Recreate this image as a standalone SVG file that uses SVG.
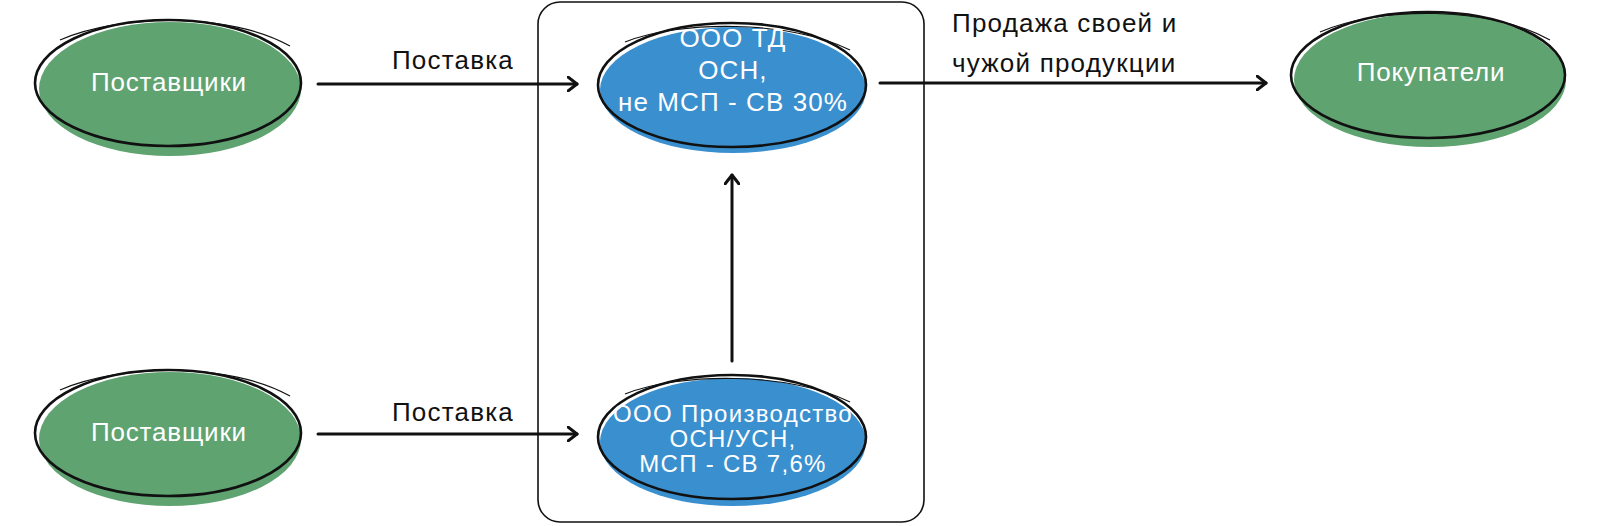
<svg xmlns="http://www.w3.org/2000/svg" width="1600" height="526" viewBox="0 0 1600 526">
<defs>
<style>
.g{fill:#5fa371}
.b{fill:#3a8fce}
.o{fill:none;stroke:#111;stroke-width:2.6}
.o2{fill:none;stroke:#111;stroke-width:1.2}
.t{font-family:"Liberation Sans",Arial,sans-serif;fill:#fff;text-anchor:middle}
.l{font-family:"Liberation Sans",Arial,sans-serif;fill:#111;font-size:26px;letter-spacing:1.2px}
.c{fill:none;stroke:#111;stroke-width:3;stroke-linecap:round}
</style>
<marker id="ah" viewBox="0 0 12 16" refX="10" refY="8" markerWidth="12" markerHeight="16" markerUnits="userSpaceOnUse" orient="auto">
<path d="M1,1 L10,8 L1,15" fill="none" stroke="#111" stroke-width="3" stroke-linecap="round" stroke-linejoin="round"/>
</marker>
</defs>
<rect x="538" y="2" width="386" height="520" rx="22" fill="none" stroke="#111" stroke-width="1.6"/>
<g id="conn">
<line class="c" x1="318" y1="84" x2="577" y2="84" marker-end="url(#ah)"/>
<line class="c" x1="318" y1="434" x2="577" y2="434" marker-end="url(#ah)"/>
<line class="c" x1="880" y1="83" x2="1266" y2="83" marker-end="url(#ah)"/>
<line class="c" x1="732" y1="361" x2="732" y2="175" stroke-width="4" marker-end="url(#ah)"/>
<text class="l" x="453" y="69" text-anchor="middle">Поставка</text>
<text class="l" x="453" y="421" text-anchor="middle">Поставка</text>
<text class="l" x="952" y="32">Продажа своей и</text>
<text class="l" x="952" y="72">чужой продукции</text>
</g>
<g id="supplier1">
<ellipse class="g" cx="170" cy="89" rx="131" ry="67"/>
<ellipse class="o" cx="168" cy="83" rx="133" ry="63"/>
<path class="o2" d="M60,40 C120,14 230,12 290,46"/>
<text class="t" x="169" y="91" font-size="26" letter-spacing="0.8">Поставщики</text>
</g>
<g id="supplier2">
<ellipse class="g" cx="170" cy="439" rx="131" ry="67"/>
<ellipse class="o" cx="168" cy="433" rx="133" ry="63"/>
<path class="o2" d="M60,390 C120,364 230,362 290,396"/>
<text class="t" x="169" y="441" font-size="26" letter-spacing="0.8">Поставщики</text>
</g>
<g id="td">
<ellipse class="b" cx="733" cy="90" rx="133" ry="63"/>
<ellipse class="o" cx="732" cy="85" rx="134" ry="62"/>
<path class="o2" d="M625,42 C680,20 790,20 850,50"/>
<text class="t" x="733" y="47" font-size="26" letter-spacing="1.1">ООО ТД</text>
<text class="t" x="733" y="79" font-size="26" letter-spacing="1.1">ОСН,</text>
<text class="t" x="733" y="111" font-size="26" letter-spacing="1.1">не МСП - СВ 30%</text>
</g>
<g id="prod">
<ellipse class="b" cx="733" cy="442" rx="133" ry="64"/>
<ellipse class="o" cx="732" cy="437" rx="134" ry="62"/>
<path class="o2" d="M625,394 C680,372 790,372 850,402"/>
<text class="t" x="733" y="422" font-size="24" letter-spacing="1.3">ООО Производство</text>
<text class="t" x="733" y="447" font-size="24" letter-spacing="1.3">ОСН/УСН,</text>
<text class="t" x="733" y="472" font-size="24" letter-spacing="1.3">МСП - СВ 7,6%</text>
</g>
<g id="buyers">
<ellipse class="g" cx="1430" cy="80" rx="136" ry="67"/>
<ellipse class="o" cx="1428" cy="75" rx="137" ry="63"/>
<path class="o2" d="M1320,32 C1380,6 1490,6 1550,40"/>
<text class="t" x="1431" y="81" font-size="26" letter-spacing="0.8">Покупатели</text>
</g>
</svg>
